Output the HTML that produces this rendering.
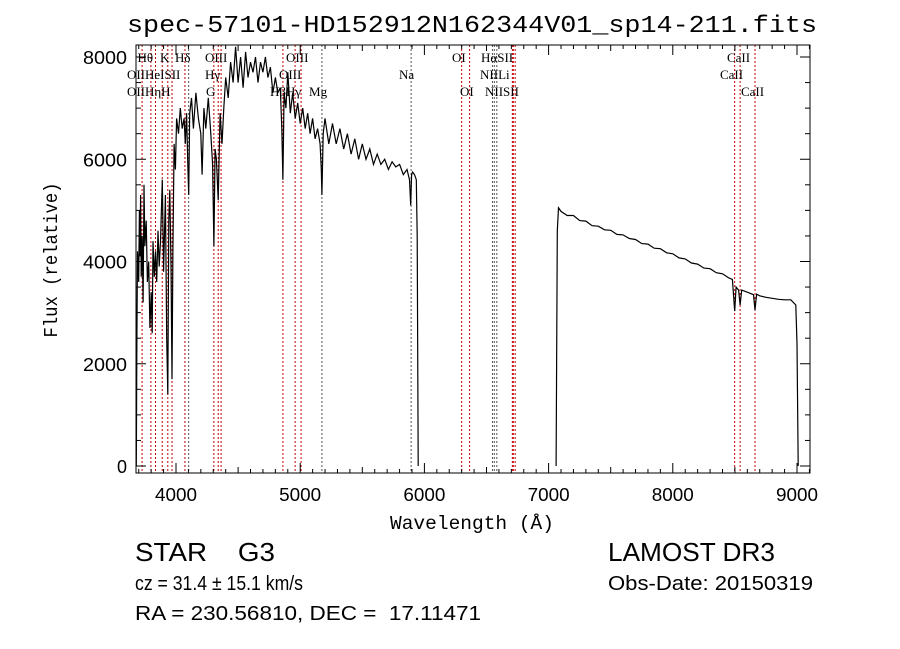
<!DOCTYPE html>
<html><head><meta charset="utf-8"><style>
html,body{margin:0;padding:0;background:#fff;}
svg{display:block;}
text{font-family:"Liberation Sans",sans-serif;fill:#000;}
.ser text{font-family:"Liberation Serif",serif;}
</style></head><body>
<svg id="chart" width="900" height="649" viewBox="0 0 900 649" xmlns="http://www.w3.org/2000/svg">
<rect width="900" height="649" fill="#fff"/>
<text x="472" y="32" font-size="24" text-anchor="middle" textLength="690" lengthAdjust="spacingAndGlyphs" style="font-family:'Liberation Mono',monospace">spec-57101-HD152912N162344V01_sp14-211.fits</text>
<g id="lines"></g>
<g id="spec"></g>
<rect x="136" y="45" width="674" height="428" fill="none" stroke="#000" stroke-width="1"/>
<g id="axes"></g>
<g id="labels" class="ser" font-size="13"></g>
<text x="472" y="529" font-size="19" text-anchor="middle" textLength="164" lengthAdjust="spacingAndGlyphs" style="font-family:'Liberation Mono',monospace">Wavelength (Å)</text>
<text transform="translate(57,260) rotate(-90)" font-size="19" text-anchor="middle" textLength="155" lengthAdjust="spacingAndGlyphs" style="font-family:'Liberation Mono',monospace">Flux (relative)</text>
<text x="135" y="561" font-size="26" textLength="140" lengthAdjust="spacingAndGlyphs" xml:space="preserve">STAR    G3</text>
<text x="135" y="590" font-size="20" textLength="168" lengthAdjust="spacingAndGlyphs">cz = 31.4 ± 15.1 km/s</text>
<text x="135" y="620" font-size="20" textLength="346" lengthAdjust="spacingAndGlyphs" xml:space="preserve">RA = 230.56810, DEC =  17.11471</text>
<text x="608" y="561" font-size="26" textLength="167" lengthAdjust="spacingAndGlyphs">LAMOST DR3</text>
<text x="608" y="590" font-size="20" textLength="205" lengthAdjust="spacingAndGlyphs">Obs-Date: 20150319</text>
</svg>
<script>
const wave=[
3680,3685,3690,3700,3705,3710,3715,3720,3728,3735,
3742,3750,3760,3770,3780,3790,3800,3808,3815,3825,
3835,3845,3855,3865,3875,3890,3900,3915,3925,3934,
3942,3950,3960,3968,3975,3985,3995,4005,4020,4035,
4050,4065,4075,4085,4095,4102,4110,4125,4140,4160,
4180,4200,4210,4225,4240,4260,4280,4295,4305,4315,
4325,4340,4355,4370,4385,4400,4420,4440,4460,4480,
4500,4520,4540,4560,4580,4600,4620,4640,4660,4680,
4700,4720,4740,4760,4780,4800,4820,4840,4852,4861,
4870,4885,4900,4920,4940,4960,4980,5000,5020,5040,
5060,5080,5100,5120,5140,5160,5170,5175,5185,5200,
5230,5260,5290,5320,5350,5380,5410,5440,5470,5500,
5530,5560,5590,5620,5650,5680,5710,5740,5770,5800,
5830,5860,5880,5890,5897,5905,5920,5935,5942,5950,
7060,7070,7080,7100,7150,7200,7250,7300,7350,7400,
7450,7500,7550,7600,7650,7700,7750,7800,7850,7900,
7950,8000,8050,8100,8150,8200,8250,8300,8350,8400,
8450,8480,8498,8510,8530,8542,8555,8600,8650,8662,
8675,8700,8750,8800,8850,8900,8950,8990,9000,9010];
const flux=[
0,2500,4200,3600,5000,4100,5300,3700,4500,3200,
5500,4300,4800,3600,4000,2700,3400,2600,4400,3700,
4200,3600,4600,3900,4400,5600,3800,5300,2500,1400,
4800,5400,3900,1700,4200,6300,5800,6800,6500,7000,
6600,6800,6300,6900,5900,5300,6900,7200,6600,7300,
6800,6500,5700,7000,6600,7200,6500,5900,4300,6200,
6000,5200,6900,6300,7000,7600,7200,7900,7500,8200,
7500,8000,7400,8100,7600,7900,7700,8000,7500,7900,
7700,8000,7600,7800,7300,7600,7300,7400,6600,5600,
7300,7000,7700,6900,7300,6800,7100,6700,7000,6600,
6900,6500,6800,6400,6600,6300,5800,5300,6500,6800,
6300,6700,6300,6600,6200,6500,6100,6400,6000,6300,
6000,6200,5900,6100,5900,6000,5800,5950,5850,5900,
5700,5800,5600,5100,5700,5750,5700,5600,4500,0,
0,4600,5050,4980,4900,4900,4800,4790,4700,4690,
4620,4610,4530,4520,4450,4430,4350,4340,4260,4250,
4170,4150,4070,4050,3970,3950,3870,3860,3780,3760,
3680,3650,3030,3500,3440,3150,3440,3400,3350,3050,
3360,3330,3300,3280,3260,3250,3250,3150,2400,0];
const lineWave=[3727,3798,3835,3889,3934,3968,4072,4102,4305,4340,4363,4861,4959,5007,5175,5893,6300,6364,6548,6563,6583,6708,6716,6731,8498,8542,8662];
const lineColor=["r","r","r","r","r","r","r","k","r","r","r","r","r","r","k","k","r","r","k","k","k","r","r","r","r","r","r"];
const labelText=["Hθ","K","Hδ","OIII","OIII","OI","HαSII","CaII","OIIHeISII","Hγ","OIII","Na","NIILi","CaII","OIIHηH","G","HβHγ","Mg","OI","NIISII","CaII"];
const labelWave=[3690,3871,3992,4233,4886,6222,6456,8436,3605,4233,4829,5795,6448,8380,3605,4242,4757,5071,6287,6488,8549];
const labelRow=[0,0,0,0,0,0,0,0,1,1,1,1,1,1,2,2,2,2,2,2,2];
const xTicks=[4000,5000,6000,7000,8000,9000];
const yTicks=[0,2000,4000,6000,8000];
const L=136,R=810,T=45,B=473;
const X=w=>176+(w-4000)*0.1242;
const Y=f=>466-f*0.051125;
const NS="http://www.w3.org/2000/svg";
function mk(t,a,p){const e=document.createElementNS(NS,t);for(const k in a)e.setAttribute(k,a[k]);p.appendChild(e);return e;}
const gl=document.getElementById('lines');
lineWave.forEach((w,i)=>{
 const e=mk('line',{x1:X(w),x2:X(w),y1:T,y2:B,stroke:lineColor[i]==="r"?"#c00000":"#555","stroke-width":1,"stroke-dasharray":"2,2"},gl);
 
 
});
const gs=document.getElementById('spec');
let d="";
wave.forEach((w,i)=>{
 const gap=i>0 && w-wave[i-1]>500;
 d+=(i===0||gap?"M":"L")+X(w).toFixed(1)+","+Y(flux[i]).toFixed(1)+" ";
});
const p=mk('path',{d:d,fill:"none",stroke:"#000","stroke-width":1.2},gs);


const ga=document.getElementById('axes');
for(let w=3700;w<=9100;w+=100){
 const big=w%1000===0, mid=w%500===0;
 const len=big?10:(mid?6:4);
 mk('line',{x1:X(w),x2:X(w),y1:B,y2:B-len,stroke:"#000"},ga);
 mk('line',{x1:X(w),x2:X(w),y1:T,y2:T+len,stroke:"#000"},ga);
}
for(let f=0;f<=8200;f+=500){
 const len=f%2000===0?10:5;
 mk('line',{x1:L,x2:L+len,y1:Y(f),y2:Y(f),stroke:"#000"},ga);
 mk('line',{x1:R,x2:R-len,y1:Y(f),y2:Y(f),stroke:"#000"},ga);
}
xTicks.forEach(v=>{const t=mk('text',{x:X(v),y:501,"font-size":18,"text-anchor":"middle",textLength:42,lengthAdjust:"spacingAndGlyphs"},ga);t.textContent=v;
 
 });
yTicks.forEach(v=>{const t=mk('text',{x:127,y:Y(v)+7,"font-size":18,"text-anchor":"end"},ga);t.textContent=v;
 if(v>0){t.setAttribute('textLength',44);t.setAttribute('lengthAdjust','spacingAndGlyphs');}
 
 });
const glab=document.getElementById('labels');
labelText.forEach((s,i)=>{const t=mk('text',{x:X(labelWave[i]),y:62+labelRow[i]*17,"font-size":13},glab);t.textContent=s;
 
 });
</script>
</body></html>
